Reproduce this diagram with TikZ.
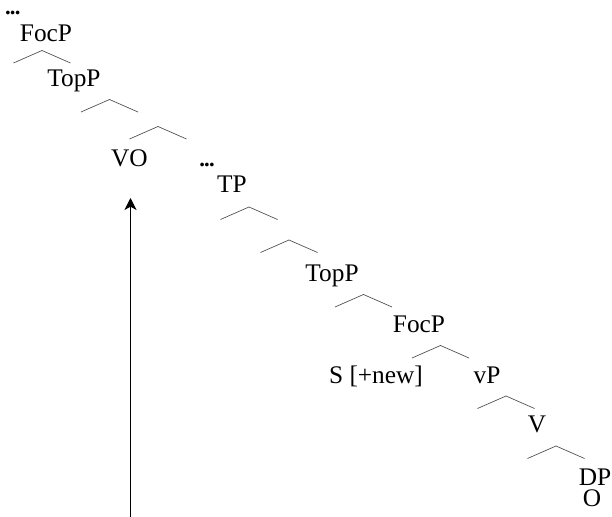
\documentclass[tikz,border=0pt]{standalone}
\usepackage{fontspec}
\setmainfont{Liberation Serif}
\usetikzlibrary{arrows.meta}
\begin{document}
\begin{tikzpicture}[x=0.75pt,y=-0.75pt,
  lbl/.style={anchor=base,inner sep=0pt,font=\fontsize{19}{22}\selectfont},
  elide/.style={anchor=base,inner sep=0pt,font=\bfseries\fontsize{17}{17}\selectfont},
  branchline/.style={line width=0.5pt,black!70},
  branch/.pic={\draw[branchline] (-28.5,12.5) -- (0,0) -- (28.5,12.5);},
  move/.style={-{Stealth[length=9pt,width=9pt,inset=2.5pt]},line width=0.75pt}]
\useasboundingbox (0,0) rectangle (612,517);

% upper spine
\node[elide] (dots1) at (12.8,14.5) {.\kern-0.6pt.\kern-0.6pt.};
\node[lbl] (focp1) at (46,42) {FocP};
\pic at (42,50.5) {branch};
\node[lbl] (topp1) at (74,87) {TopP};
\pic at (109.5,99.5) {branch};
\pic at (158,126.5) {branch};
\node[lbl] (vo) at (129.5,167) {VO};

% lower spine
\node[elide] (dots2) at (207,167) {.\kern-0.6pt.\kern-0.6pt.};
\node[lbl] (tp) at (232,193) {TP};
\pic at (249,207) {branch};
\pic at (289,240) {branch};
\node[lbl] (topp2) at (332,282) {TopP};
\pic at (363.5,294.5) {branch};
\node[lbl] (focp2) at (419,333) {FocP};
\pic at (440.5,345.5) {branch};
\node[lbl] (snew) at (376,383) {S [+new]};
\node[lbl] (vp) at (487,383) {vP};
\pic at (506,396) {branch};
\node[lbl] (v) at (537,433) {V};
\pic at (556,446) {branch};
\node[lbl] (dp) at (595,485) {DP};
\node[lbl] (o) at (592,507) {O};

% movement arrow
\coordinate (src) at (130.5,517);
\coordinate (tgt) at (130.5,198);
\draw[move] (src) -- (tgt);
\end{tikzpicture}
\end{document}
